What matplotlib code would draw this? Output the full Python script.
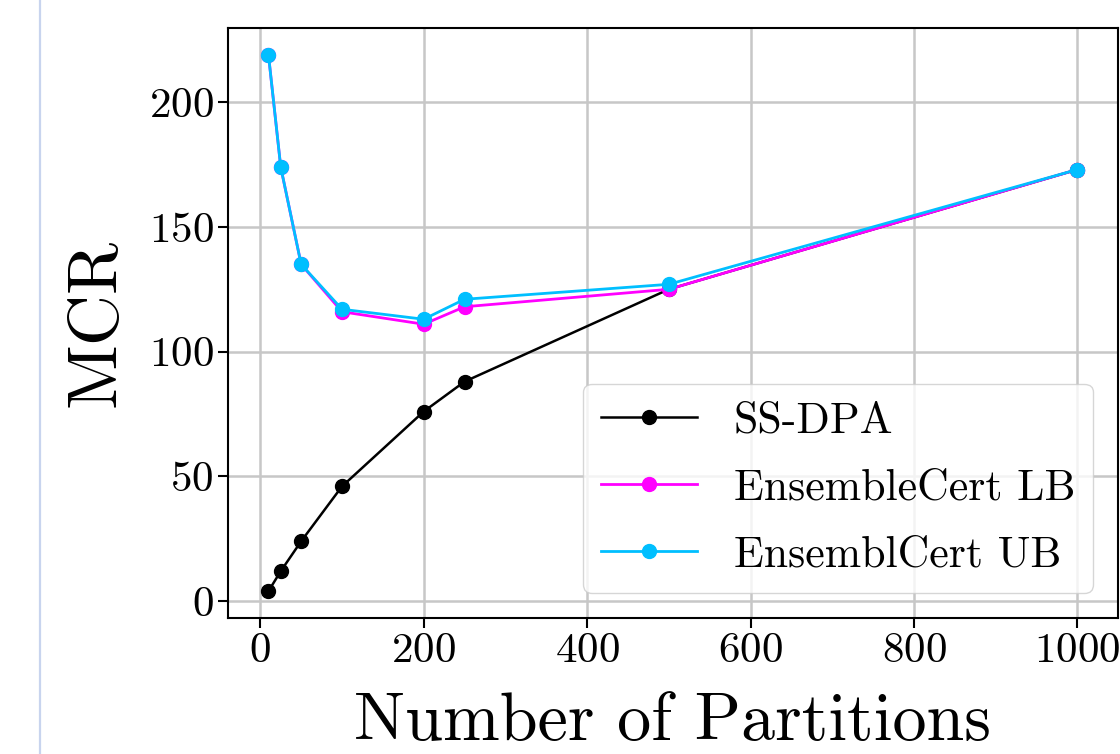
import matplotlib
matplotlib.use('Agg')
import matplotlib.pyplot as plt
from matplotlib.lines import Line2D

plt.rcParams['font.family'] = 'serif'
plt.rcParams['font.serif'] = ['cmr10']
plt.rcParams['mathtext.fontset'] = 'cm'
plt.rcParams['axes.formatter.use_mathtext'] = True

partitions = [10, 25, 50, 100, 200, 250, 500, 1000]
ss_dpa = [4, 12, 24, 46, 76, 88, 125, 173]
ens_lb = [219, 174, 135, 116, 111, 118, 125, 173]
ens_ub = [219, 174, 135, 117, 113, 121, 127, 173]

fig = plt.figure(figsize=(11.2, 7.54), dpi=100)
ax = fig.add_axes([0.2036, 0.1804, 0.7944, 0.7825])

ax.plot(partitions, ss_dpa, color='black', marker='o', lw=1.8, ms=10, label='SS-DPA')
ax.plot(partitions, ens_lb, color='#ff00ff', marker='o', lw=2, ms=10, label='EnsembleCert LB')
ax.plot(partitions, ens_ub, color='#00bfff', marker='o', lw=2, ms=10, label='EnsemblCert UB')

ax.grid(True, color='0.78', lw=1.8)
ax.set_axisbelow(True)
ax.set_yticks([0, 50, 100, 150, 200])
ax.set_xticks([0, 200, 400, 600, 800, 1000])
ax.tick_params(labelsize=31, length=7, width=1.5)
for s in ax.spines.values():
    s.set_linewidth(1.5)

ax.set_xlabel('Number of Partitions', fontsize=49, labelpad=16)
ax.set_ylabel('MCR', fontsize=51, labelpad=14)

ax.legend(loc='lower right', fontsize=31.5, handlelength=2.2, handletextpad=0.85,
          labelspacing=0.62, borderaxespad=0,
          bbox_to_anchor=(1093 / 1120, (754 - 593) / 754), bbox_transform=fig.transFigure)

# page border line on the left
fig.add_artist(Line2D([40 / 1120, 40 / 1120], [0, 1], color='#c8d4ee', lw=1.6))

fig.savefig('out.png', dpi=100)
